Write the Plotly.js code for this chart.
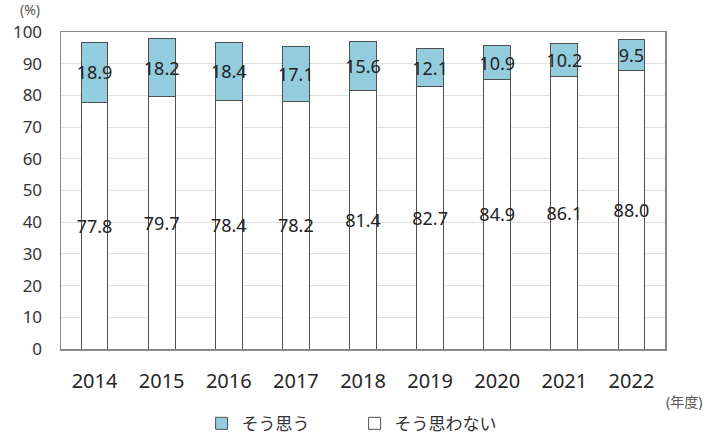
<!DOCTYPE html>
<html><head><meta charset="utf-8">
<script src="https://cdn.plot.ly/plotly-3.0.1.min.js"></script>
<style>html,body{margin:0;padding:0;background:#fff}</style>
</head><body>
<div id="chart" style="width:720px;height:436px"></div>
<script>
const years = ["2014","2015","2016","2017","2018","2019","2020","2021","2022"];
const notAgree = [77.8,79.7,78.4,78.2,81.4,82.7,84.9,86.1,88.0];
const agree = [18.9,18.2,18.4,17.1,15.6,12.1,10.9,10.2,9.5];
const nameAgree = "そう思う";
const nameNotAgree = "そう思わない";
const yTicks = [0,10,20,30,40,50,60,70,80,90,100];

const FONT = "'Noto Sans', 'Noto Sans CJK JP', sans-serif";
const common = {
  type: 'bar', x: years, textposition: 'inside', insidetextanchor: 'middle',
  textangle: 0, constraintext: 'none', texttemplate: '%{y:.1f}',
  textfont: {family: FONT, size: 18, color: '#222'}, hoverinfo: 'none'
};
const data = [
  Object.assign({}, common, {y: notAgree, name: nameNotAgree,
    marker: {color: '#ffffff', line: {color: '#505050', width: 1}}}),
  Object.assign({}, common, {y: agree, name: nameAgree,
    marker: {color: '#93CDDD', line: {color: '#505050', width: 1}}})
];
const layout = {
  width: 720, height: 436,
  margin: {l: 61, r: 55, t: 32, b: 87, autoexpand: false},
  barmode: 'stack', bargap: 0.6,
  paper_bgcolor: '#fff', plot_bgcolor: '#fff',
  font: {family: FONT, color: '#333'},
  showlegend: true,
  xaxis: {type: 'category', tickmode: 'array', tickvals: years, ticktext: years,
    tickfont: {family: FONT, size: 20, color: '#262626'}, ticklabelstandoff: 13,
    showline: true, mirror: true, linecolor: '#888', linewidth: 1.5, ticks: '', fixedrange: true},
  yaxis: {range: [0, 100], tickvals: yTicks, tickfont: {family: FONT, size: 17, color: '#333'},
    ticklabelstandoff: 14,
    showgrid: true, gridcolor: '#e0e0e0', gridwidth: 1, showline: true, mirror: true,
    linecolor: '#888', linewidth: 1.5, ticks: '', zeroline: false, fixedrange: true},
  legend: {orientation: 'h', traceorder: 'reversed', xref: 'container', yref: 'container',
    x: 0.28, xanchor: 'left', y: 0.028, yanchor: 'middle',
    font: {family: FONT, size: 17, color: '#333'}, itemwidth: 30, entrywidth: 108, entrywidthmode: 'pixels'},
  annotations: [
    {text: '(%)', xref: 'paper', yref: 'paper', x: -0.0513, y: 1.072, xanchor: 'center', yanchor: 'middle',
      showarrow: false, font: {family: FONT, size: 14, color: '#555'}},
    {text: '(年度)', xref: 'paper', yref: 'paper', x: 0.998, y: -0.13, xanchor: 'left', yanchor: 'top',
      showarrow: false, font: {family: FONT, size: 14, color: '#555'}}
  ]
};
Plotly.newPlot('chart', data, layout, {displayModeBar: false, staticPlot: true});
</script>
</body></html>
